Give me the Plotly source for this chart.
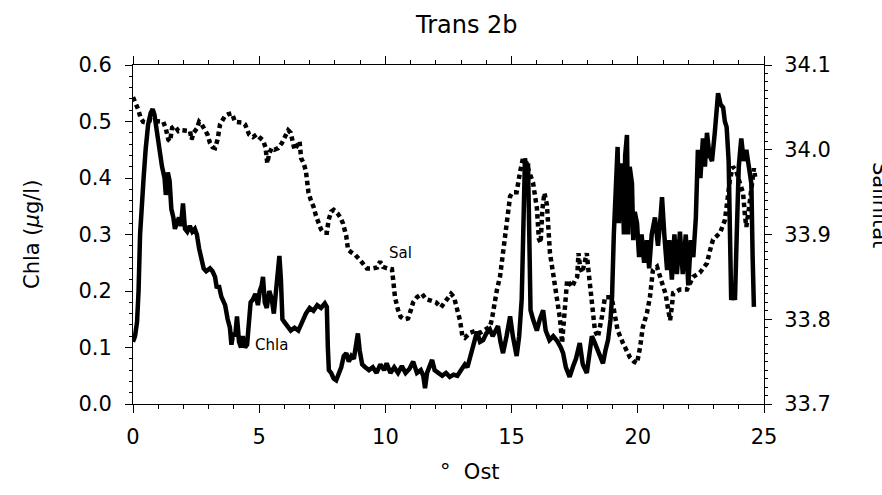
import plotly.graph_objects as go

# ---- data ----
chla_x = [0.00, 0.08, 0.16, 0.22, 0.28, 0.35, 0.42, 0.50, 0.60, 0.70, 0.78, 0.85, 0.95, 1.05, 1.15, 1.25,
          1.30, 1.38, 1.45, 1.52, 1.60, 1.66, 1.74, 1.82, 1.90, 1.98, 2.06, 2.15, 2.25, 2.35, 2.45, 2.53,
          2.62, 2.72, 2.80, 2.90, 3.05, 3.15, 3.25, 3.32, 3.40, 3.50, 3.57, 3.65, 3.75, 3.84, 3.90, 3.97,
          4.05, 4.12, 4.20, 4.28, 4.35, 4.44, 4.52, 4.60, 4.66, 4.75, 4.85, 4.95, 5.02, 5.10, 5.15, 5.22,
          5.30, 5.40, 5.50, 5.58, 5.66, 5.74, 5.80, 5.86, 5.92, 6.00, 6.10, 6.25, 6.40, 6.55, 6.70, 6.85,
          7.00, 7.15, 7.30, 7.45, 7.60, 7.68, 7.72, 7.76, 7.85, 7.95, 8.05, 8.15, 8.25, 8.35, 8.45, 8.55,
          8.65, 8.75, 8.85, 8.91, 8.98, 9.08, 9.20, 9.35, 9.50, 9.65, 9.80, 9.95, 10.05, 10.20, 10.35, 10.50,
          10.65, 10.80, 10.95, 11.10, 11.25, 11.40, 11.50, 11.57, 11.65, 11.78, 11.85, 11.95, 12.10, 12.25,
          12.40, 12.55, 12.70, 12.85, 13.00, 13.15, 13.25, 13.40, 13.50, 13.63, 13.75, 13.87, 14.00, 14.14,
          14.25, 14.34, 14.46, 14.56, 14.66, 14.80, 14.94, 15.05, 15.20, 15.30, 15.40, 15.46, 15.53, 15.60,
          15.65, 15.70, 15.75, 15.85, 16.00, 16.12, 16.25, 16.35, 16.50, 16.65, 16.80, 16.95, 17.04, 17.15,
          17.30, 17.43, 17.55, 17.70, 17.82, 17.98, 18.08, 18.18, 18.28, 18.38, 18.50, 18.62, 18.72, 18.82,
          18.92, 18.98, 19.05, 19.12, 19.20, 19.25, 19.30, 19.37, 19.45, 19.50, 19.57, 19.62, 19.68, 19.77,
          19.82, 19.88, 19.97, 20.05, 20.15, 20.25, 20.36, 20.45, 20.55, 20.68, 20.80, 20.90, 20.96, 21.05,
          21.16, 21.25, 21.35, 21.45, 21.55, 21.67, 21.78, 21.90, 22.00, 22.10, 22.20, 22.30, 22.38, 22.48,
          22.58, 22.66, 22.74, 22.84, 22.94, 23.05, 23.18, 23.28, 23.38, 23.45, 23.52, 23.60, 23.65, 23.70,
          23.78, 23.85, 23.92, 24.00, 24.10, 24.20, 24.30, 24.40, 24.50, 24.55, 24.60]
chla_y = [0.110, 0.120, 0.145, 0.200, 0.300, 0.370, 0.400, 0.450, 0.495, 0.515, 0.522, 0.512, 0.480, 0.440, 0.420, 0.400,
          0.370, 0.410, 0.395, 0.345, 0.330, 0.310, 0.320, 0.330, 0.315, 0.355, 0.310, 0.305, 0.315, 0.305, 0.310, 0.300,
          0.275, 0.255, 0.240, 0.235, 0.240, 0.235, 0.225, 0.205, 0.210, 0.190, 0.180, 0.175, 0.150, 0.135, 0.105, 0.125,
          0.120, 0.155, 0.110, 0.100, 0.120, 0.100, 0.105, 0.150, 0.180, 0.185, 0.195, 0.175, 0.200, 0.210, 0.225, 0.180,
          0.170, 0.200, 0.185, 0.160, 0.200, 0.240, 0.262, 0.220, 0.150, 0.145, 0.140, 0.130, 0.135, 0.130, 0.145, 0.160,
          0.170, 0.165, 0.175, 0.170, 0.178, 0.172, 0.100, 0.060, 0.055, 0.045, 0.042, 0.055, 0.065, 0.085, 0.090, 0.075,
          0.085, 0.080, 0.105, 0.125, 0.095, 0.070, 0.065, 0.060, 0.065, 0.055, 0.070, 0.060, 0.072, 0.055, 0.065, 0.055,
          0.067, 0.055, 0.062, 0.075, 0.055, 0.060, 0.050, 0.028, 0.055, 0.070, 0.078, 0.060, 0.055, 0.050,
          0.055, 0.048, 0.052, 0.050, 0.060, 0.070, 0.065, 0.090, 0.100, 0.128, 0.110, 0.113, 0.125, 0.132,
          0.120, 0.128, 0.138, 0.110, 0.090, 0.120, 0.155, 0.120, 0.085, 0.120, 0.185, 0.300, 0.435, 0.410,
          0.426, 0.300, 0.166, 0.150, 0.130, 0.150, 0.166, 0.130, 0.113, 0.120, 0.112, 0.100, 0.090, 0.065,
          0.048, 0.066, 0.080, 0.108, 0.070, 0.055, 0.090, 0.120, 0.110, 0.100, 0.085, 0.072, 0.095, 0.113,
          0.150, 0.190, 0.300, 0.400, 0.455, 0.320, 0.400, 0.426, 0.300, 0.440, 0.476, 0.300, 0.420, 0.390,
          0.290, 0.340, 0.320, 0.260, 0.300, 0.250, 0.290, 0.240, 0.300, 0.330, 0.280, 0.330, 0.366, 0.300,
          0.237, 0.290, 0.220, 0.300, 0.230, 0.305, 0.230, 0.300, 0.210, 0.290, 0.260, 0.330, 0.450, 0.400,
          0.470, 0.420, 0.480, 0.440, 0.430, 0.480, 0.550, 0.530, 0.525, 0.500, 0.490, 0.430, 0.300, 0.184,
          0.200, 0.184, 0.300, 0.420, 0.470, 0.430, 0.450, 0.420, 0.390, 0.260, 0.172]

sal_x = [0.00, 0.10, 0.20, 0.30, 0.40, 0.55, 0.70, 0.90, 1.10, 1.20, 1.30, 1.40, 1.47, 1.55, 1.65, 1.80,
         1.95, 2.10, 2.26, 2.32, 2.40, 2.53, 2.62, 2.72, 2.85, 2.95, 3.05, 3.15, 3.25, 3.35, 3.45, 3.55,
         3.65, 3.78, 3.92, 4.04, 4.20, 4.35, 4.44, 4.52, 4.60, 4.75, 4.90, 5.00, 5.15, 5.25, 5.32, 5.40,
         5.50, 5.60, 5.75, 5.90, 6.05, 6.15, 6.25, 6.32, 6.40, 6.50, 6.60, 6.66, 6.75, 6.85, 6.95, 7.05,
         7.15, 7.25, 7.35, 7.45, 7.55, 7.68, 7.75, 7.85, 7.95, 8.10, 8.22, 8.32, 8.45, 8.52, 8.65, 8.80,
         8.99, 9.15, 9.27, 9.50, 9.67, 9.79, 9.90, 10.06, 10.26, 10.32, 10.38, 10.50, 10.60, 10.75, 10.90, 11.00,
         11.10, 11.25, 11.45, 11.60, 11.80, 12.00, 12.20, 12.30, 12.44, 12.60, 12.72, 12.80, 12.88, 12.96, 13.05, 13.15,
         13.35, 13.55, 13.75, 13.95, 14.14, 14.22, 14.30, 14.42, 14.54, 14.66, 14.76, 14.86, 14.94, 15.05, 15.20, 15.33,
         15.45, 15.52, 15.60, 15.68, 15.78, 15.85, 15.93, 16.00, 16.08, 16.15, 16.22, 16.30, 16.40, 16.45, 16.52, 16.64,
         16.72, 16.80, 16.92, 17.00, 17.06, 17.10, 17.20, 17.30, 17.40, 17.50, 17.60, 17.65, 17.72, 17.80, 17.90, 17.98,
         18.03, 18.10, 18.18, 18.30, 18.42, 18.50, 18.58, 18.70, 18.90, 19.00, 19.10, 19.20, 19.41, 19.55, 19.69, 19.85,
         19.97, 20.09, 20.20, 20.36, 20.48, 20.60, 20.76, 20.96, 21.10, 21.20, 21.28, 21.35, 21.40, 21.55, 21.67, 21.95,
         22.10, 22.19, 22.46, 22.60, 22.74, 22.85, 22.98, 23.26, 23.45, 23.55, 23.65, 23.77, 23.90, 24.05, 24.17, 24.25,
         24.30, 24.40, 24.50, 24.60, 24.65]
sal_y = [34.062, 34.056, 34.048, 34.038, 34.033, 34.032, 34.035, 34.034, 34.033, 34.033, 34.025, 34.012, 34.010, 34.026, 34.028, 34.022,
         34.023, 34.023, 34.022, 34.012, 34.020, 34.025, 34.033, 34.030, 34.023, 34.018, 34.008, 34.003, 34.002, 34.012, 34.030, 34.036,
         34.040, 34.042, 34.043, 34.033, 34.033, 34.032, 34.030, 34.022, 34.018, 34.015, 34.018, 34.015, 34.011, 34.003, 33.984, 33.996,
         34.002, 34.000, 34.002, 34.008, 34.018, 34.023, 34.020, 34.012, 34.000, 34.005, 34.010, 33.990, 33.985, 33.975, 33.950, 33.940,
         33.933, 33.922, 33.912, 33.906, 33.902, 33.902, 33.917, 33.927, 33.929, 33.925, 33.920, 33.913, 33.898, 33.882, 33.879, 33.876,
         33.870, 33.864, 33.860, 33.860, 33.861, 33.868, 33.862, 33.860, 33.859, 33.843, 33.826, 33.811, 33.803, 33.800, 33.801, 33.810,
         33.820, 33.826, 33.830, 33.824, 33.822, 33.820, 33.814, 33.818, 33.823, 33.830, 33.826, 33.816, 33.805, 33.798, 33.780, 33.778,
         33.784, 33.786, 33.784, 33.788, 33.791, 33.800, 33.815, 33.835, 33.850, 33.878, 33.900, 33.921, 33.945, 33.950, 33.950, 33.973,
         33.990, 33.985, 33.984, 33.975, 33.965, 33.961, 33.945, 33.932, 33.895, 33.890, 33.930, 33.949, 33.935, 33.909, 33.878, 33.855,
         33.838, 33.823, 33.800, 33.772, 33.795, 33.814, 33.846, 33.842, 33.838, 33.845, 33.850, 33.878, 33.860, 33.855, 33.866, 33.878,
         33.862, 33.840, 33.823, 33.787, 33.779, 33.790, 33.803, 33.826, 33.826, 33.820, 33.800, 33.787, 33.772, 33.762, 33.755, 33.750,
         33.748, 33.767, 33.791, 33.807, 33.826, 33.858, 33.862, 33.843, 33.830, 33.812, 33.799, 33.815, 33.831, 33.833, 33.835, 33.835,
         33.845, 33.850, 33.855, 33.860, 33.866, 33.880, 33.894, 33.902, 33.917, 33.940, 33.965, 33.980, 33.975, 33.960, 33.949, 33.921,
         33.909, 33.930, 33.955, 33.978, 33.968]

x_range = [0, 25]
chla_range = [0, 0.6]
sal_range = [33.7, 34.1]

title_text = "Trans 2b"
x_title = "°  Ost"
y_title = "Chla (<i>µ</i>g/l)"
y2_title = "Salinität"
chla_label = "Chla"
sal_label = "Sal"

FONT = "DejaVu Sans"
TICK_SIZE = 21
LABEL_SIZE = 21

fig = go.Figure()
fig.add_trace(go.Scatter(x=sal_x, y=sal_y, mode="lines", yaxis="y2",
                         line=dict(color="black", width=4.5, dash="4.5px,3.5px"),
                         showlegend=False, hoverinfo="skip"))
fig.add_trace(go.Scatter(x=chla_x, y=chla_y, mode="lines", yaxis="y",
                         line=dict(color="black", width=4.5),
                         showlegend=False, hoverinfo="skip"))

axis_common = dict(showline=True, linecolor="black", linewidth=1, showgrid=False, zeroline=False,
                   ticks="outside", tickcolor="black", tickwidth=1,
                   tickfont=dict(family=FONT, size=TICK_SIZE, color="black"))

fig.update_layout(
    width=882, height=495,
    margin=dict(l=133, r=118, t=65, b=91, pad=0),
    paper_bgcolor="white", plot_bgcolor="white",
    font=dict(family=FONT, color="black"),
    xaxis=dict(range=x_range, dtick=5, tick0=0, ticklen=8, mirror="ticks",
               minor=dict(dtick=1, ticklen=4, ticks="outside", tickcolor="black"),
               ticklabelstandoff=6, **axis_common),
    yaxis=dict(range=chla_range, dtick=0.1, tick0=0, ticklen=7, tickformat=".1f",
               minor=dict(dtick=0.02, ticklen=3, ticks="outside", tickcolor="black"),
               ticklabelstandoff=9, **axis_common),
    yaxis2=dict(range=sal_range, dtick=0.1, tick0=33.7, ticklen=7, tickformat=".1f",
                overlaying="y", side="right",
                minor=dict(dtick=0.01, ticklen=3, ticks="outside", tickcolor="black"),
                ticklabelstandoff=8, **axis_common),
    annotations=[
        dict(text=title_text, xref="paper", yref="paper", x=0.528, y=1 + 40 / 339,
             xanchor="center", yanchor="middle", showarrow=False,
             font=dict(family=FONT, size=24, color="black")),
        dict(text=x_title, xref="paper", yref="paper", x=0.534, y=-68 / 339,
             xanchor="center", yanchor="middle", showarrow=False,
             font=dict(family=FONT, size=LABEL_SIZE, color="black")),
        dict(text=y_title, xref="paper", yref="paper", x=-101 / 631, y=0.4985,
             xanchor="center", yanchor="middle", showarrow=False, textangle=-90,
             font=dict(family=FONT, size=LABEL_SIZE, color="black")),
        dict(text=y2_title, xref="paper", yref="paper", x=(880 - 133) / 631, y=(404 - 205) / 339,
             xanchor="center", yanchor="middle", showarrow=False, textangle=90,
             font=dict(family=FONT, size=LABEL_SIZE, color="black")),
        dict(text=chla_label, xref="x", yref="y", x=5.5, y=0.104,
             xanchor="center", yanchor="middle", showarrow=False,
             font=dict(family=FONT, size=15, color="black")),
        dict(text=sal_label, xref="x", yref="y", x=10.58, y=0.267,
             xanchor="center", yanchor="middle", showarrow=False,
             font=dict(family=FONT, size=15, color="black")),
    ],
)

fig.write_html("out.html")
